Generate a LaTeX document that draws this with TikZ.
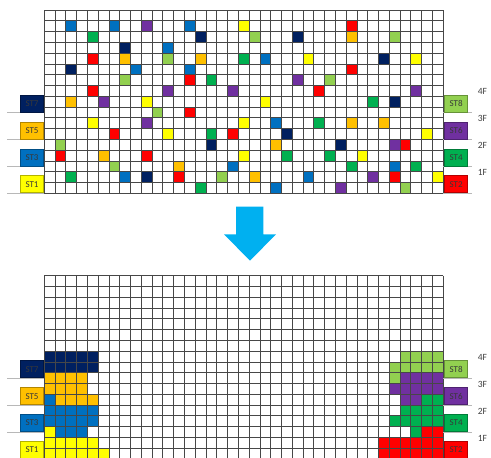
\documentclass[tikz,border=0pt]{standalone}
\usepackage{fontspec}
\setmainfont{Carlito}
\definecolor{cN}{HTML}{002060}
\definecolor{cO}{HTML}{FFC000}
\definecolor{cB}{HTML}{0070C0}
\definecolor{cY}{HTML}{FFFF00}
\definecolor{cL}{HTML}{92D050}
\definecolor{cP}{HTML}{7030A0}
\definecolor{cG}{HTML}{00B050}
\definecolor{cR}{HTML}{FF0000}
\definecolor{arrowblue}{HTML}{00B0F0}
\begin{document}
\begin{tikzpicture}[x=1pt,y=-1pt,
  gridline/.style={draw=black!72,line width=0.8pt},
  floorline/.style={draw=black!28,line width=0.9pt},
  stbox/.style={draw=#1!70!black,fill=#1,line width=0.8pt,minimum width=23.3pt,minimum height=17pt,inner sep=0pt,font=\fontsize{9}{10}\selectfont,text=black!78},
  floorlab/.style={font=\fontsize{9.5}{10}\selectfont,text=black!75,inner sep=0pt}]
\useasboundingbox (0,0) rectangle (491,458);
\clip (0,0) rectangle (491,458);
\def\cs{10.78}
\def\gx{44.3}
% ---------- top grid cells ----------
\def\gy{10}
\foreach \c/\r/\k in {
 2/1/cB, 6/1/cB, 9/1/cP, 13/1/cB, 18/1/cY, 28/1/cR,
 4/2/cG, 14/2/cN, 19/2/cL, 23/2/cN, 28/2/cO, 32/2/cL,
 7/3/cN, 11/3/cB,
 4/4/cR, 7/4/cO, 11/4/cL, 14/4/cO, 18/4/cG, 20/4/cB, 24/4/cY, 31/4/cN, 34/4/cY,
 2/5/cN, 8/5/cB, 13/5/cB, 28/5/cR,
 7/6/cL, 13/6/cR, 15/6/cG, 23/6/cP, 26/6/cL,
 4/7/cR, 11/7/cP, 17/7/cP, 25/7/cR, 34/7/cP,
 2/8/cO, 5/8/cP, 9/8/cY, 20/8/cY, 30/8/cG, 32/8/cN,
 10/9/cL, 13/9/cR,
 4/10/cY, 9/10/cP, 18/10/cY, 21/10/cB, 25/10/cG, 28/10/cO, 31/10/cO,
 6/11/cR, 11/11/cY, 15/11/cG, 17/11/cR, 22/11/cN, 35/11/cY,
 1/12/cL, 15/12/cN, 21/12/cO, 27/12/cN, 32/12/cP, 33/12/cR,
 1/13/cR, 5/13/cO, 9/13/cR, 18/13/cY, 22/13/cG, 26/13/cG, 29/13/cY,
 6/14/cL, 12/14/cO, 17/14/cB, 28/14/cG, 32/14/cB, 34/14/cG,
 2/15/cG, 7/15/cB, 9/15/cN, 12/15/cR, 16/15/cL, 19/15/cO, 24/15/cB, 30/15/cP, 32/15/cR, 36/15/cY,
 14/16/cG, 21/16/cB, 27/16/cP, 33/16/cL}
  \fill[\k] ({\gx+\c*\cs},{\gy+\r*\cs}) rectangle ++(\cs,\cs);
% ---------- bottom grid cells ----------
\def\gyb{275.7}
\foreach \a/\b/\r/\k in {
 0/4/7/cN, 33/36/7/cL,
 0/4/8/cN, 32/36/8/cL,
 0/3/9/cO, 32/32/9/cL, 33/36/9/cP,
 0/3/10/cO, 32/36/10/cP,
 0/0/11/cB, 1/4/11/cO, 33/34/11/cP, 35/36/11/cG,
 0/4/12/cB, 33/36/12/cG,
 0/4/13/cB, 32/36/13/cG,
 0/0/14/cY, 1/3/14/cB, 34/34/14/cG, 35/36/14/cR,
 0/4/15/cY, 31/36/15/cR,
 0/5/16/cY, 31/36/16/cR}
  \fill[\k] ({\gx+\a*\cs},{\gyb+\r*\cs}) rectangle ({\gx+(\b+1)*\cs},{\gyb+(\r+1)*\cs});
% ---------- grid lines and labels for both grids ----------
\foreach \g/\s in {10/a,275.7/b}{
  \foreach \i in {0,...,37}
    \draw[gridline] ({\gx+\i*\cs},\g) -- ++(0,{17*\cs});
  \foreach \j in {0,...,17}
    \draw[gridline] (\gx,{\g+\j*\cs}) -- ++({37*\cs},0);
  \foreach \n/\k/\f in {7/cN/0,5/cO/1,3/cB/2,1/cY/3}{
    \draw[floorline] (7,{\g+102.4+\f*26.95}) -- (\gx,{\g+102.4+\f*26.95});
    \node[stbox=\k,anchor=south west] (ST\n\s) at (20,{\g+102.4+\f*26.95}) {ST\n};
  }
  \foreach \n/\k/\f/\fl in {8/cL/0/4,6/cP/1/3,4/cG/2/2,2/cR/3/1}{
    \draw[floorline] (443.3,{\g+102.4+\f*26.95}) -- (472,{\g+102.4+\f*26.95});
    \node[stbox=\k,anchor=south west] (ST\n\s) at (444,{\g+102.4+\f*26.95}) {ST\n};
    \node[floorlab] (F\fl\s) at (482.5,{\g+81.8+\f*26.95}) {\fl F};
  }
}
% ---------- arrow ----------
\fill[arrowblue] (236,206.7) -- (263.3,206.7) -- (263.3,234.3) -- (276,234.3)
  -- (250,260.7) -- (224,234.3) -- (236,234.3) -- cycle;
\end{tikzpicture}
\end{document}
